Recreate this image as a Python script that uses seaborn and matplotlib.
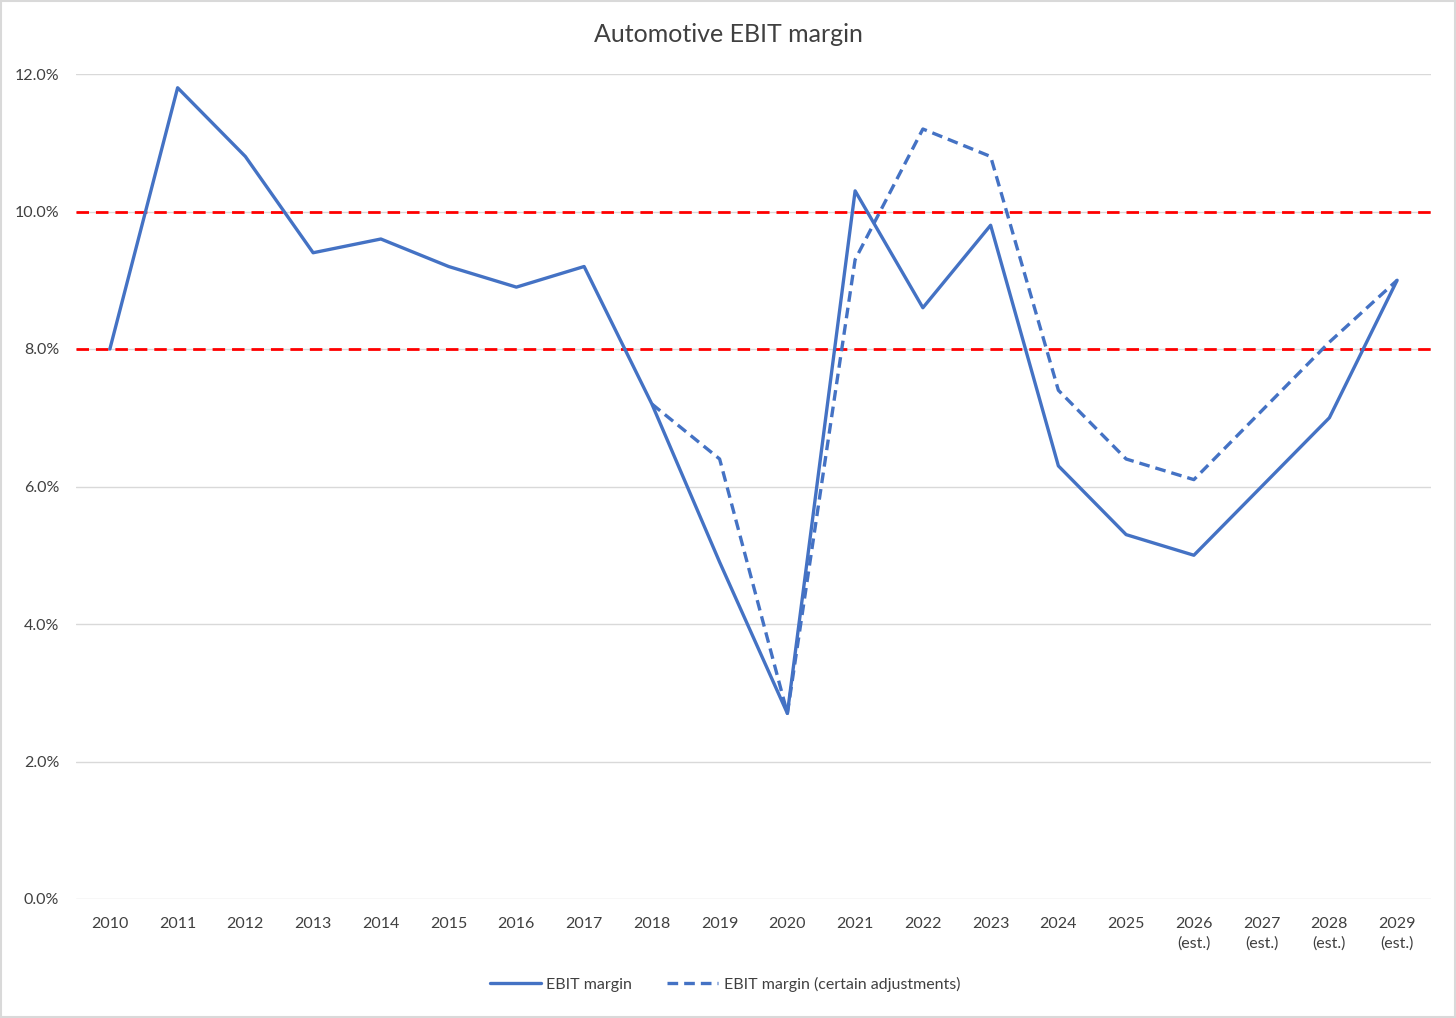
import matplotlib
matplotlib.use("Agg")
import matplotlib.pyplot as plt
import matplotlib.ticker as mticker
import numpy as np
import pandas as pd
import seaborn as sns

# ── Data ──────────────────────────────────────────────────────────────────
years = ["2010", "2011", "2012", "2013", "2014", "2015", "2016", "2017", "2018", "2019",
         "2020", "2021", "2022", "2023", "2024", "2025",
         "2026\n(est.)", "2027\n(est.)", "2028\n(est.)", "2029\n(est.)"]
ebit_margin = [8.0, 11.8, 10.8, 9.4, 9.6, 9.2, 8.9, 9.2, 7.2, 4.9,
               2.7, 10.3, 8.6, 9.8, 6.3, 5.3, 5.0, 6.0, 7.0, 9.0]
ebit_adjusted = [np.nan] * 8 + [7.2, 6.4, 2.7, 9.3, 11.2, 10.8, 7.4, 6.4, 6.1, 7.1, 8.1, 9.0]
ref_levels = [8.0, 10.0]
y_ticks = [0, 2, 4, 6, 8, 10, 12]

BLUE = "#4472C4"
RED = "#FF0000"
TEXT = "#404040"

sns.set_style("white")
plt.rcParams["font.family"] = ["Lato", "DejaVu Sans"]

df = pd.DataFrame({"x": range(len(years)), "solid": ebit_margin, "adj": ebit_adjusted})
df_adj = df.dropna(subset=["adj"])

fig = plt.figure(figsize=(14.56, 10.18), dpi=100)
ax = fig.add_axes([76 / 1456, 1 - 899 / 1018, (1431 - 76) / 1456, (899 - 74) / 1018])

for y in y_ticks:
    ax.axhline(y, color="#D9D9D9", lw=1, zorder=0)
for y in ref_levels:
    ax.axhline(y, color=RED, lw=2.0, linestyle=(0, (4.5, 2.5)), zorder=1)

sns.lineplot(data=df, x="x", y="solid", color=BLUE, lw=2.4, ax=ax,
             label="EBIT margin", zorder=3)
sns.lineplot(data=df_adj, x="x", y="adj", color=BLUE, lw=2.4, ax=ax,
             label="EBIT margin (certain adjustments)", zorder=3,
             linestyle=(0, (3.2, 1.8)))

ax.set_xlim(-0.5, len(years) - 0.5)
ax.set_ylim(0, 12)
ax.set_xticks(range(len(years)))
ax.set_xticklabels(years, fontsize=11.5, color=TEXT, linespacing=1.5)
ax.set_yticks(y_ticks)
ax.yaxis.set_major_formatter(mticker.FuncFormatter(lambda v, _: f"{v:.1f}%"))
ax.tick_params(axis="y", length=0, pad=12, labelsize=11.5, labelcolor=TEXT)
ax.tick_params(axis="x", length=0, pad=13, labelsize=11.5, labelcolor=TEXT)
for lab in ax.get_xticklabels():
    lab.set_verticalalignment("top")
ax.set_xlabel("")
ax.set_ylabel("")
sns.despine(ax=ax, left=True, bottom=True, top=True, right=True)

fig.text(728 / 1456, 1 - 35 / 1018, "Automotive EBIT margin", ha="center", va="center",
         fontsize=18, color=TEXT)

ax.legend(loc="center", bbox_to_anchor=(725 / 1456, 1 - 984 / 1018),
          bbox_transform=fig.transFigure, ncol=2, frameon=False, fontsize=11.5,
          handlelength=3.2, columnspacing=2.2, handletextpad=0.35, labelcolor=TEXT)

fig.patches.append(plt.Rectangle((0.001, 0.001), 0.998, 0.998, transform=fig.transFigure,
                                 fill=False, edgecolor="#D9D9D9", lw=1.5))

fig.savefig("out.png", dpi=100)
